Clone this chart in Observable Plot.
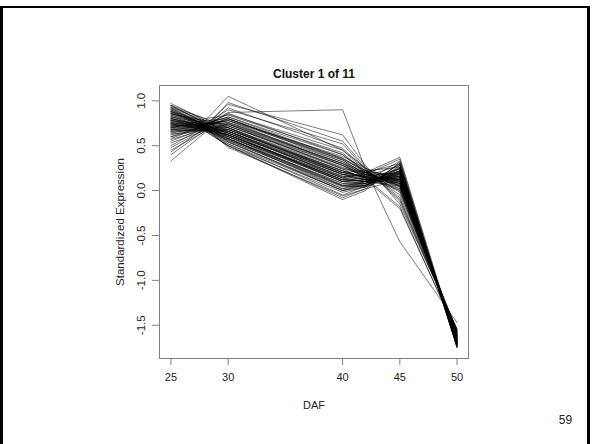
<!DOCTYPE html>
<html>
<head>
<meta charset="utf-8">
<script src="https://cdn.jsdelivr.net/npm/d3@7"></script>
<script src="https://cdn.jsdelivr.net/npm/@observablehq/plot@0.6"></script>
<style>
  html, body { margin: 0; padding: 0; background: #fff; }
  #wrap { position: relative; width: 594px; height: 444px; overflow: hidden; background: #fff; }
  #border { position: absolute; left: 0; top: 6px; width: 584px; height: 520px;
            border-left: 3px solid #000; border-top: 2px solid #000; border-right: 3px solid #000; }
  #chart { position: absolute; left: 0; top: 0; }
</style>
</head>
<body>
<div id="wrap"><div id="border"></div><div id="chart"></div></div>
<script>
// Time points (days after flowering)
const daf = [25, 28, 30, 40, 42, 45, 50];
const xTicks = [25, 30, 40, 45, 50];
const yTicks = [-1.5, -1.0, -0.5, 0.0, 0.5, 1.0];
const titleText = "Cluster 1 of 11";
const xLabel = "DAF";
const yLabel = "Standardized Expression";
const pageNumber = "59";

// Standardized expression profiles, one row per gene, values at each DAF
const profiles = [
  [0.97, 0.78, 0.62, 0.10, 0.12, 0.15, -1.65],
  [0.95, 0.75, 0.58, 0.05, 0.10, 0.22, -1.70],
  [0.93, 0.80, 0.70, 0.20, 0.15, 0.10, -1.62],
  [0.92, 0.72, 0.55, 0.00, 0.08, 0.25, -1.72],
  [0.91, 0.76, 0.66, 0.15, 0.18, 0.12, -1.68],
  [0.90, 0.74, 0.60, 0.12, 0.10, 0.05, -1.60],
  [0.89, 0.70, 0.52, -0.05, 0.05, 0.30, -1.75],
  [0.88, 0.77, 0.72, 0.25, 0.20, 0.18, -1.66],
  [0.87, 0.73, 0.64, 0.18, 0.12, 0.08, -1.64],
  [0.86, 0.71, 0.57, 0.08, 0.06, 0.20, -1.71],
  [0.85, 0.78, 0.80, 0.35, 0.22, 0.15, -1.63],
  [0.84, 0.72, 0.68, 0.22, 0.14, 0.02, -1.58],
  [0.83, 0.69, 0.50, -0.08, 0.02, 0.28, -1.74],
  [0.82, 0.75, 0.74, 0.30, 0.18, 0.10, -1.66],
  [0.81, 0.70, 0.62, 0.14, 0.10, 0.16, -1.69],
  [0.80, 0.73, 0.78, 0.38, 0.25, 0.05, -1.57],
  [0.79, 0.68, 0.56, 0.05, 0.04, 0.22, -1.73],
  [0.78, 0.74, 0.82, 0.40, 0.20, 0.00, -1.59],
  [0.77, 0.71, 0.66, 0.20, 0.15, 0.12, -1.67],
  [0.76, 0.69, 0.60, 0.10, 0.08, 0.18, -1.70],
  [0.76, 0.72, 0.72, 0.28, 0.16, 0.08, -1.62],
  [0.75, 0.70, 0.64, 0.16, 0.12, 0.14, -1.68],
  [0.75, 0.73, 0.85, 0.45, 0.22, -0.05, -1.55],
  [0.74, 0.68, 0.54, 0.02, 0.06, 0.26, -1.72],
  [0.73, 0.71, 0.70, 0.24, 0.18, 0.10, -1.65],
  [0.72, 0.69, 0.62, 0.12, 0.10, 0.20, -1.69],
  [0.72, 0.74, 0.90, 0.52, 0.24, -0.10, -1.56],
  [0.71, 0.70, 0.68, 0.22, 0.14, 0.06, -1.64],
  [0.70, 0.68, 0.58, 0.08, 0.08, 0.24, -1.71],
  [0.70, 0.72, 0.76, 0.32, 0.20, 0.04, -1.60],
  [0.69, 0.70, 0.66, 0.18, 0.12, 0.16, -1.67],
  [0.68, 0.67, 0.52, 0.00, 0.04, 0.30, -1.74],
  [0.67, 0.73, 0.96, 0.62, 0.28, -0.15, -1.54],
  [0.66, 0.70, 0.72, 0.26, 0.16, 0.08, -1.63],
  [0.65, 0.68, 0.62, 0.14, 0.10, 0.18, -1.69],
  [0.64, 0.71, 0.80, 0.36, 0.22, 0.02, -1.58],
  [0.63, 0.67, 0.56, 0.04, 0.06, 0.25, -1.72],
  [0.62, 0.70, 0.70, 0.22, 0.15, 0.12, -1.66],
  [0.60, 0.69, 0.64, 0.16, 0.12, 0.14, -1.68],
  [0.58, 0.72, 0.86, 0.40, 0.22, -0.02, -1.57],
  [0.57, 0.68, 0.60, 0.10, 0.08, 0.22, -1.70],
  [0.55, 0.70, 0.74, 0.28, 0.18, 0.06, -1.61],
  [0.53, 0.67, 0.58, 0.06, 0.05, 0.20, -1.73],
  [0.50, 0.71, 0.92, 0.47, 0.24, -0.08, -1.56],
  [0.48, 0.68, 0.66, 0.18, 0.14, 0.10, -1.65],
  [0.45, 0.66, 0.50, -0.10, 0.00, 0.32, -1.75],
  [0.43, 0.70, 0.98, 0.55, 0.26, -0.12, -1.55],
  [0.40, 0.67, 0.62, 0.12, 0.10, 0.16, -1.68],
  [0.33, 0.65, 0.75, 0.30, 0.20, 0.05, -1.62],
  [0.70, 0.78, 1.05, 0.45, 0.25, 0.10, -1.60],
  [0.60, 0.72, 0.87, 0.90, 0.24, -0.57, -1.47],
  [0.95, 0.80, 0.84, 0.42, 0.20, 0.37, -1.70],
  [0.88, 0.74, 0.78, 0.34, 0.18, 0.35, -1.72],
  [0.80, 0.70, 0.58, 0.02, 0.10, 0.33, -1.74],
  [0.86, 0.76, 0.70, 0.18, 0.16, 0.28, -1.70],
  [0.78, 0.72, 0.64, 0.10, 0.12, -0.20, -1.58],
  [0.92, 0.78, 0.76, 0.30, 0.14, -0.18, -1.60],
  [0.74, 0.70, 0.48, -0.06, 0.02, 0.12, -1.66],
  [0.68, 0.66, 0.50, -0.02, 0.04, 0.18, -1.70],
  [0.84, 0.75, 0.68, 0.20, 0.22, 0.26, -1.68],
  [0.90, 0.73, 0.80, 0.32, 0.16, 0.20, -1.66],
  [0.86, 0.74, 0.82, 0.36, 0.20, 0.12, -1.62],
  [0.82, 0.72, 0.78, 0.28, 0.14, 0.24, -1.70],
  [0.78, 0.70, 0.80, 0.34, 0.18, 0.08, -1.64],
  [0.94, 0.76, 0.74, 0.24, 0.12, 0.18, -1.68],
  [0.72, 0.71, 0.60, 0.06, 0.08, 0.14, -1.66],
  [0.88, 0.72, 0.54, 0.00, 0.06, 0.22, -1.72],
  [0.66, 0.69, 0.68, 0.20, 0.16, 0.20, -1.67],
  [0.80, 0.71, 0.66, 0.14, 0.20, 0.30, -1.71],
  [0.74, 0.70, 0.62, 0.12, 0.14, 0.00, -1.61]
];

const data = profiles.flatMap((row, g) => row.map((v, i) => ({gene: g, daf: daf[i], value: v})));

const chart = Plot.plot({
  width: 594,
  height: 444,
  marginLeft: 159,
  marginRight: 126,
  marginTop: 85,
  marginBottom: 86,
  style: {fontFamily: "'Liberation Sans', Arial, sans-serif", fontSize: "11px", color: "#222", background: "transparent", overflow: "visible"},
  x: {domain: [24, 51]},
  y: {domain: [-1.87, 1.17]},
  marks: [
    Plot.lineY(data, {x: "daf", y: "value", z: "gene", stroke: "#000", strokeWidth: 0.65, strokeOpacity: 0.8}),
    Plot.frame({stroke: "#808080", strokeWidth: 1}),
    Plot.axisX({ticks: xTicks, tickSize: 7, tickPadding: 8, stroke: "#808080", label: null, fontSize: 11}),
    Plot.axisY({ticks: yTicks, tickSize: 7, tickPadding: 8, tickRotate: -90, tickFormat: d => d.toFixed(1), stroke: "#808080", label: null, fontSize: 11.5}),
    Plot.text([titleText], {frameAnchor: "top", dy: -11, lineAnchor: "middle", text: d => d, fontWeight: "bold", fontSize: 12, fill: "#111"}),
    Plot.text([xLabel], {frameAnchor: "bottom", dy: 47, lineAnchor: "middle", text: d => d, fontSize: 11}),
    Plot.text([yLabel], {frameAnchor: "left", dx: -39, rotate: -90, lineAnchor: "middle", textAnchor: "middle", text: d => d, fontSize: 11.5}),
    Plot.text([pageNumber], {frameAnchor: "bottom-right", dx: 97, dy: 62, lineAnchor: "middle", textAnchor: "middle", text: d => d, fontSize: 12})
  ]
});
document.getElementById("chart").appendChild(chart);
</script>
</body>
</html>
